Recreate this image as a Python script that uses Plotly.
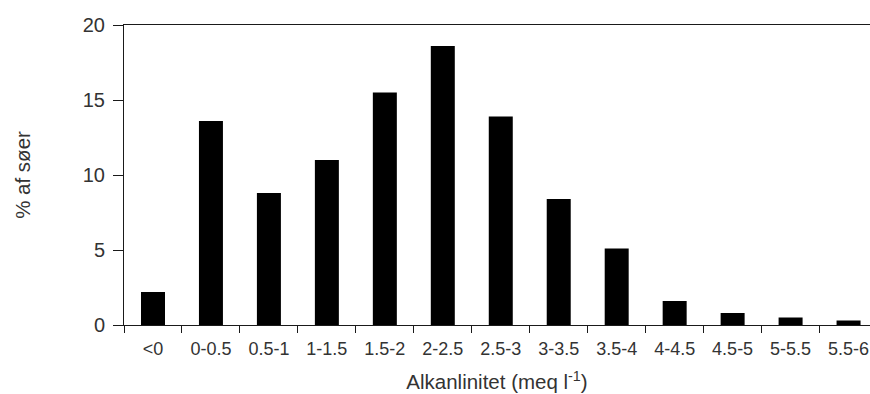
import plotly.graph_objects as go

# Alkalinity classes (meq/l) and share of lakes in each class (%)
categories = ["<0", "0-0.5", "0.5-1", "1-1.5", "1.5-2", "2-2.5", "2.5-3",
              "3-3.5", "3.5-4", "4-4.5", "4.5-5", "5-5.5", "5.5-6"]
percent_lakes = [2.2, 13.6, 8.8, 11.0, 15.5, 18.6, 13.9, 8.4, 5.1, 1.6, 0.8, 0.5, 0.3]
y_ticks = [0, 5, 10, 15, 20]

FONT = "Liberation Sans, Arial, sans-serif"
TEXT = "#333333"
LINE = "#1a1a1a"

fig = go.Figure(
    go.Bar(
        x=categories,
        y=percent_lakes,
        width=0.414,
        marker=dict(color="black", line=dict(width=0)),
    )
)

fig.update_layout(
    width=870,
    height=394,
    margin=dict(l=124, r=0, t=25, b=69),
    paper_bgcolor="white",
    plot_bgcolor="white",
    showlegend=False,
    font=dict(family=FONT, color=TEXT),
)

fig.update_xaxes(
    type="category",
    range=[-0.5, 12.37],
    tickson="boundaries",
    ticks="outside",
    ticklen=7,
    tickwidth=1,
    tickcolor=LINE,
    showline=True,
    linecolor=LINE,
    linewidth=1,
    mirror=True,
    showgrid=False,
    zeroline=False,
    tickfont=dict(size=18, family=FONT, color=TEXT),
    ticklabelstandoff=7,
    title=dict(text="Alkanlinitet (meq l<sup>-1</sup>)",
               font=dict(size=20.5, family=FONT, color=TEXT), standoff=17),
)

fig.update_yaxes(
    range=[0, 20],
    tickvals=y_ticks,
    ticks="outside",
    ticklen=10,
    tickwidth=1,
    tickcolor=LINE,
    showline=True,
    linecolor=LINE,
    linewidth=1,
    showgrid=False,
    zeroline=False,
    tickfont=dict(size=20, family=FONT, color=TEXT),
    ticklabelstandoff=4,
    title=dict(text="% af søer", font=dict(size=20.5, family=FONT, color=TEXT), standoff=46),
)

fig.write_html("out.html")
